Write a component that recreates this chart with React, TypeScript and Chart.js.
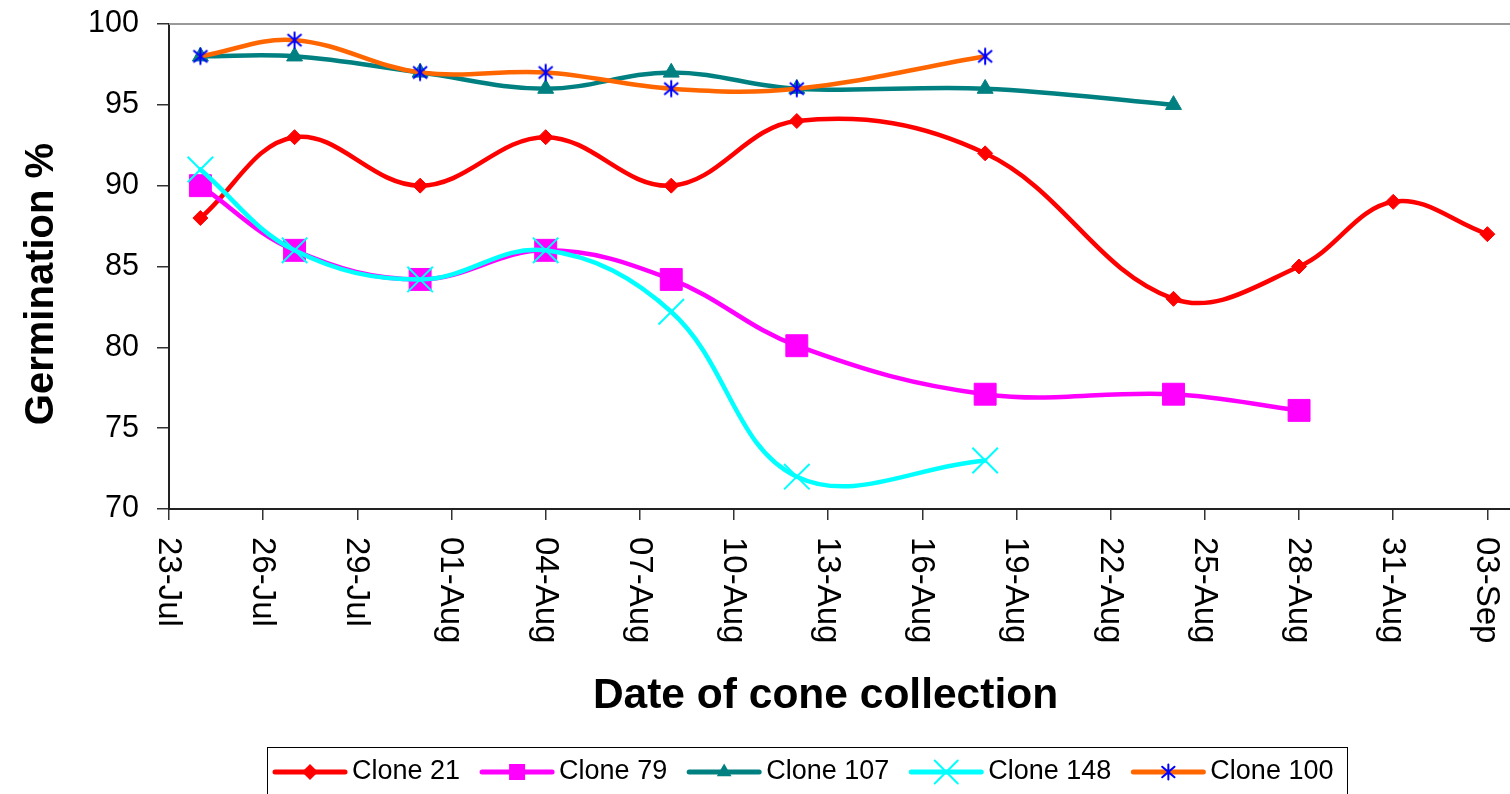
import React, { useEffect, useRef } from "react";
import { Chart, registerables } from "chart.js";

Chart.register(...registerables);

const FONT = "'Liberation Sans', Arial, Helvetica, sans-serif";

// ---------- data ----------
const axisStartDate = "23-Jul";
const xTickLabels = [
  "23-Jul", "26-Jul", "29-Jul", "01-Aug", "04-Aug", "07-Aug", "10-Aug", "13-Aug",
  "16-Aug", "19-Aug", "22-Aug", "25-Aug", "28-Aug", "31-Aug", "03-Sep",
];
const yTickValues = [70, 75, 80, 85, 90, 95, 100];

const seriesNames = ["Clone 21", "Clone 79", "Clone 107", "Clone 148", "Clone 100"];

const clone21Dates = ["24-Jul", "27-Jul", "31-Jul", "04-Aug", "08-Aug", "12-Aug", "18-Aug", "24-Aug", "28-Aug", "31-Aug", "03-Sep"];
const clone21Values = [88, 93, 90, 93, 90, 94, 92, 83, 85, 89, 87];

const clone79Dates = ["24-Jul", "27-Jul", "31-Jul", "04-Aug", "08-Aug", "12-Aug", "18-Aug", "24-Aug", "28-Aug"];
const clone79Values = [90, 86, 84.2, 86, 84.2, 80.1, 77.1, 77.1, 76.1];

const clone107Dates = ["24-Jul", "27-Jul", "31-Jul", "04-Aug", "08-Aug", "12-Aug", "18-Aug", "24-Aug"];
const clone107Values = [98, 98, 97, 96, 97, 96, 96, 95];

const clone148Dates = ["24-Jul", "27-Jul", "31-Jul", "04-Aug", "08-Aug", "12-Aug", "18-Aug"];
const clone148Values = [91, 86, 84.2, 86, 82.2, 72, 73];

const clone100Dates = ["24-Jul", "27-Jul", "31-Jul", "04-Aug", "08-Aug", "12-Aug", "18-Aug"];
const clone100Values = [98, 99, 97, 97, 96, 96, 98];

const X_MAX_DAYS = 42.72;

// ---------- helpers ----------
const MONTHS: Record<string, number> = { Jul: 6, Aug: 7, Sep: 8 };
function toUTC(s: string) {
  const [d, m] = s.split("-");
  return Date.UTC(2000, MONTHS[m], parseInt(d, 10));
}
function dayIndex(s: string) {
  return Math.round((toUTC(s) - toUTC(axisStartDate)) / 86400000);
}
function toPoints(dates: string[], values: number[]) {
  return dates.map((d, i) => ({ x: dayIndex(d), y: values[i] }));
}

type MarkerKind = "diamond" | "square" | "triangle" | "x" | "star";

function drawMarker(ctx: CanvasRenderingContext2D, kind: MarkerKind, x: number, y: number, color: string, s: number) {
  ctx.save();
  ctx.fillStyle = color;
  ctx.strokeStyle = color;
  ctx.beginPath();
  if (kind === "diamond") {
    ctx.moveTo(x, y - s);
    ctx.lineTo(x + s, y);
    ctx.lineTo(x, y + s);
    ctx.lineTo(x - s, y);
    ctx.closePath();
    ctx.fill();
  } else if (kind === "square") {
    ctx.rect(x - s, y - s, 2 * s, 2 * s);
    ctx.fill();
  } else if (kind === "triangle") {
    const w = s * 0.866;
    ctx.moveTo(x, y - s);
    ctx.lineTo(x + w, y + s * 0.5);
    ctx.lineTo(x - w, y + s * 0.5);
    ctx.closePath();
    ctx.fill();
  } else if (kind === "x") {
    ctx.lineWidth = 2;
    ctx.moveTo(x - s, y - s);
    ctx.lineTo(x + s, y + s);
    ctx.moveTo(x + s, y - s);
    ctx.lineTo(x - s, y + s);
    ctx.stroke();
  } else if (kind === "star") {
    ctx.lineWidth = 2;
    ctx.moveTo(x, y - s);
    ctx.lineTo(x, y + s);
    ctx.moveTo(x - s * 0.82, y - s * 0.7);
    ctx.lineTo(x + s * 0.82, y + s * 0.7);
    ctx.moveTo(x + s * 0.82, y - s * 0.7);
    ctx.lineTo(x - s * 0.82, y + s * 0.7);
    ctx.stroke();
  }
  ctx.restore();
}

function makeStarImage(color: string) {
  const c = document.createElement("canvas");
  c.width = 20;
  c.height = 20;
  const cx = c.getContext("2d")!;
  drawMarker(cx, "star", 10, 10, color, 8.5);
  return c;
}

const lineColors = ["#FF0000", "#FF00FF", "#008080", "#00FFFF", "#FF6600"];
const markerColors = ["#FF0000", "#FF00FF", "#008080", "#00FFFF", "#0000FF"];
const markerKinds: MarkerKind[] = ["diamond", "square", "triangle", "x", "star"];

// ---------- overlay plugin (titles, rotated tick labels, legend, frame) ----------
const overlayPlugin = {
  id: "overlay",
  afterDraw(chart: any) {
    const ctx: CanvasRenderingContext2D = chart.ctx;
    const area = chart.chartArea;
    const xs = chart.scales.x;

    ctx.save();
    // top frame line
    ctx.strokeStyle = "#999999";
    ctx.lineWidth = 2;
    ctx.beginPath();
    ctx.moveTo(area.left, area.top);
    ctx.lineTo(area.right, area.top);
    ctx.stroke();

    // x tick labels rotated +90deg (reading top to bottom)
    ctx.fillStyle = "#000";
    ctx.font = `33px ${FONT}`;
    ctx.textAlign = "left";
    ctx.textBaseline = "middle";
    xTickLabels.forEach((lbl) => {
      const px = xs.getPixelForValue(dayIndex(lbl));
      ctx.save();
      ctx.translate(px - 1, area.bottom + 28);
      ctx.rotate(Math.PI / 2);
      ctx.fillText(lbl, 0, 0);
      ctx.restore();
    });

    // axis titles
    ctx.font = `bold 42.5px ${FONT}`;
    ctx.textAlign = "center";
    ctx.textBaseline = "alphabetic";
    ctx.fillText("Date of cone collection", 825.5, 708);

    ctx.save();
    ctx.font = `bold 40px ${FONT}`;
    ctx.translate(53, 284);
    ctx.rotate(-Math.PI / 2);
    ctx.textAlign = "center";
    ctx.textBaseline = "alphabetic";
    ctx.fillText("Germination %", 0, 0);
    ctx.restore();

    // legend box
    ctx.strokeStyle = "#000";
    ctx.lineWidth = 1;
    ctx.strokeRect(267.5, 747.5, 1080, 60);

    ctx.font = `27px ${FONT}`;
    ctx.textAlign = "left";
    ctx.textBaseline = "middle";
    const ly = 772;
    let lx = 275;
    const legendSizes = [8, 8, 8.5, 11.5, 7.5];
    seriesNames.forEach((name, i) => {
      ctx.strokeStyle = lineColors[i];
      ctx.lineWidth = 5;
      ctx.lineCap = "round";
      ctx.beginPath();
      ctx.moveTo(lx, ly);
      ctx.lineTo(lx + 70, ly);
      ctx.stroke();
      drawMarker(ctx, markerKinds[i], lx + 35, ly, markerColors[i], legendSizes[i]);
      ctx.fillStyle = "#000";
      ctx.fillText(name, lx + 77, ly);
      lx += 77 + ctx.measureText(name).width + 22;
    });
    ctx.restore();
  },
};

export default function App() {
  const canvasRef = useRef<HTMLCanvasElement | null>(null);

  useEffect(() => {
    const canvas = canvasRef.current;
    if (!canvas) return;
    const starImg = makeStarImage("#0000FF");

    const seriesDates = [clone21Dates, clone79Dates, clone107Dates, clone148Dates, clone100Dates];
    const seriesValues = [clone21Values, clone79Values, clone107Values, clone148Values, clone100Values];
    const pointStyles: any[] = ["rectRot", "rect", "triangle", "crossRot", starImg];
    const pointRadii = [7.5, 15.5, 9.2, 18, 9];
    const pointBorderWidths = [1, 1, 1, 2, 2];

    const datasets = seriesNames.map((name, i) => ({
      label: name,
      data: toPoints(seriesDates[i], seriesValues[i]),
      borderColor: lineColors[i],
      backgroundColor: lineColors[i],
      borderWidth: 4.5,
      borderCapStyle: "round" as const,
      borderJoinStyle: "round" as const,
      tension: 0.38,
      fill: false,
      pointStyle: pointStyles[i],
      pointRadius: pointRadii[i],
      pointBackgroundColor: markerColors[i],
      pointBorderColor: markerColors[i],
      pointBorderWidth: pointBorderWidths[i],
      order: seriesNames.length - i,
    }));

    const chart = new Chart(canvas, {
      type: "line",
      data: { datasets },
      options: {
        animation: false,
        responsive: false,
        events: [],
        layout: { autoPadding: false, padding: { top: 24, left: 0, right: 0, bottom: 0 } },
        plugins: {
          legend: { display: false },
          tooltip: { enabled: false },
          title: { display: false },
        },
        scales: {
          x: {
            type: "linear",
            min: 0,
            max: X_MAX_DAYS,
            afterBuildTicks: (s: any) => {
              s.ticks = xTickLabels.map((l) => ({ value: dayIndex(l) }));
            },
            afterFit: (s: any) => {
              s.height = 285;
              s.paddingLeft = 0;
              s.paddingRight = 0;
              s.paddingTop = 0;
              s.paddingBottom = 0;
            },
            ticks: { display: false },
            grid: { drawOnChartArea: false, drawTicks: true, tickLength: 11, color: "#333", lineWidth: 1.5 },
            border: { display: true, color: "#222", width: 2 },
          },
          y: {
            type: "linear",
            min: 70,
            max: 100,
            afterBuildTicks: (s: any) => {
              s.ticks = yTickValues.map((v) => ({ value: v }));
            },
            afterFit: (s: any) => {
              s.width = 169;
              s.paddingTop = 0;
              s.paddingBottom = 0;
              s.paddingLeft = 0;
              s.paddingRight = 0;
            },
            ticks: {
              color: "#000",
              font: { family: FONT, size: 30.5 },
              padding: 18,
            },
            grid: { drawOnChartArea: false, drawTicks: true, tickLength: 12, color: "#333", lineWidth: 1.5 },
            border: { display: true, color: "#222", width: 2 },
          },
        },
      },
      plugins: [overlayPlugin],
    });

    return () => {
      chart.destroy();
    };
  }, []);

  return (
    <div style={{ position: "absolute", left: 0, top: 0, width: 1510, height: 794, background: "#fff" }}>
      <canvas ref={canvasRef} width={1510} height={794} style={{ display: "block" }} />
    </div>
  );
}
